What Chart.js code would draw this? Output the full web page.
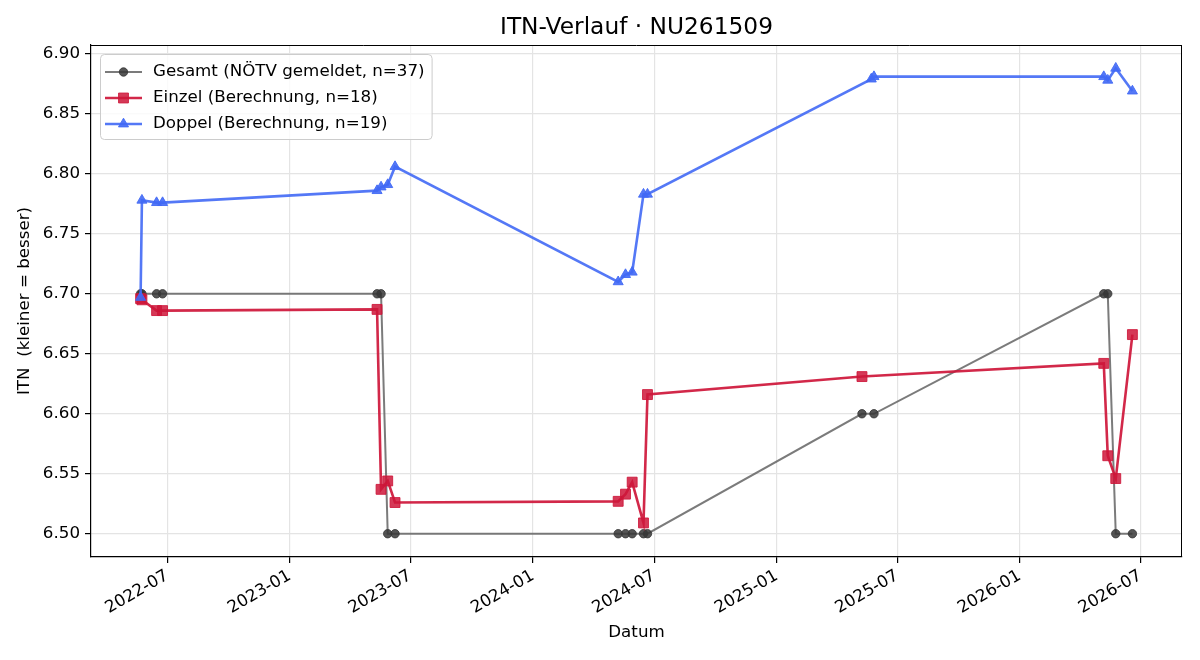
<!DOCTYPE html>
<html>
<head>
<meta charset="utf-8">
<script src="https://cdn.jsdelivr.net/npm/chart.js@4.4.0/dist/chart.umd.min.js"></script>
<style>
html,body{margin:0;padding:0;background:#ffffff;}
#wrap{width:1200px;height:660px;}
</style>
</head>
<body>
<div id="wrap"><canvas id="c" width="1200" height="660"></canvas></div>
<script>
const chartTitle = 'ITN-Verlauf · NU261509';
const xAxisTitle = 'Datum';
const yAxisTitle = 'ITN  (kleiner = besser)';

const gesamtLabel = 'Gesamt (NÖTV gemeldet, n=37)';
const gesamtDates = ['2022-05-22','2022-05-24','2022-06-15','2022-06-24','2023-05-12','2023-05-18','2023-05-28','2023-06-08','2024-05-08','2024-05-19','2024-05-29','2024-06-15','2024-06-21','2025-05-09','2025-05-27','2026-05-07','2026-05-13','2026-05-25','2026-06-19'];
const gesamtValues = [6.70,6.70,6.70,6.70,6.70,6.70,6.50,6.50,6.50,6.50,6.50,6.50,6.50,6.60,6.60,6.70,6.70,6.50,6.50];

const einzelLabel = 'Einzel (Berechnung, n=18)';
const einzelDates = ['2022-05-22','2022-05-24','2022-06-15','2022-06-24','2023-05-12','2023-05-18','2023-05-28','2023-06-08','2024-05-08','2024-05-19','2024-05-29','2024-06-15','2024-06-21','2025-05-09','2026-05-07','2026-05-13','2026-05-25','2026-06-19'];
const einzelValues = [6.696,6.695,6.686,6.686,6.687,6.537,6.544,6.526,6.527,6.533,6.543,6.509,6.616,6.631,6.642,6.565,6.546,6.666];

const doppelLabel = 'Doppel (Berechnung, n=19)';
const doppelDates = ['2022-05-22','2022-05-24','2022-06-15','2022-06-24','2023-05-12','2023-05-18','2023-05-28','2023-06-08','2024-05-08','2024-05-19','2024-05-29','2024-06-15','2024-06-21','2025-05-23','2025-05-27','2026-05-07','2026-05-13','2026-05-25','2026-06-19'];
const doppelValues = [6.697,6.778,6.776,6.776,6.786,6.789,6.791,6.806,6.710,6.716,6.718,6.783,6.783,6.879,6.881,6.881,6.878,6.888,6.869];

const xTickLabels = ['2022-07','2023-01','2023-07','2024-01','2024-07','2025-01','2025-07','2026-01','2026-07'];
const yTickValues = [6.50,6.55,6.60,6.65,6.70,6.75,6.80,6.85,6.90];

const FONT = "'DejaVu Sans', sans-serif";
const FS = 16.7;

function dayNum(s){
  const p = s.split('-').map(Number);
  return Date.UTC(p[0], p[1]-1, p[2] || 1) / 86400000;
}
function pts(dates, vals){ return dates.map((d,i)=>({x: dayNum(d), y: vals[i]})); }

const xTickDays = xTickLabels.map(dayNum);
const allDays = [].concat(gesamtDates, einzelDates, doppelDates).map(dayNum);
const allVals = [].concat(gesamtValues, einzelValues, doppelValues);
const xMinD = Math.min(...allDays), xMaxD = Math.max(...allDays);
const yMinD = Math.min(...allVals), yMaxD = Math.max(...allVals);
const xm = (xMaxD - xMinD) * 0.05, ym = (yMaxD - yMinD) * 0.05;

const frameAndTitle = {
  id: 'frameAndTitle',
  afterDatasetsDraw(chart){
    const {ctx, chartArea:a} = chart;
    ctx.save();
    ctx.strokeStyle = '#000';
    ctx.lineWidth = 1;
    ctx.beginPath();
    ctx.moveTo(a.left, a.top + 0.5); ctx.lineTo(a.right, a.top + 0.5);
    ctx.moveTo(a.right - 0.5, a.top); ctx.lineTo(a.right - 0.5, a.bottom);
    ctx.stroke();
    ctx.restore();
  },
  afterDraw(chart){
    const {ctx, chartArea:a} = chart;
    ctx.save();
    ctx.fillStyle = '#000';
    ctx.font = '23.3px ' + FONT;
    ctx.textAlign = 'center';
    ctx.textBaseline = 'middle';
    ctx.fillText(chartTitle, (a.left + a.right)/2, 28);

    // legend
    const ds = chart.data.datasets;
    ctx.font = FS + 'px ' + FONT;
    const bx = a.left + 9, by = a.top + 9, rowH = 26;
    const textX = bx + 53;
    let maxW = 0;
    ds.forEach(d => { maxW = Math.max(maxW, ctx.measureText(d.label).width); });
    const bw = textX - bx + maxW + 7, bh = 85;
    ctx.fillStyle = 'rgba(255,255,255,0.8)';
    ctx.strokeStyle = '#cccccc';
    ctx.lineWidth = 1;
    ctx.beginPath();
    ctx.roundRect(bx + 0.5, by + 0.5, bw, bh, 4);
    ctx.fill(); ctx.stroke();
    ds.forEach((d, i) => {
      const y = by + 18 + i * rowH;
      ctx.strokeStyle = d.borderColor;
      ctx.lineWidth = d.borderWidth;
      ctx.beginPath();
      ctx.moveTo(bx + 5, y); ctx.lineTo(bx + 42, y);
      ctx.stroke();
      ctx.fillStyle = d.pointBackgroundColor;
      ctx.strokeStyle = d.pointBorderColor;
      ctx.lineWidth = d.pointBorderWidth;
      Chart.helpers.drawPoint(ctx, {pointStyle: d.pointStyle, radius: d.pointRadius, rotation: 0, borderWidth: d.pointBorderWidth}, bx + 23.5, y);
      ctx.fillStyle = '#000';
      ctx.textAlign = 'left';
      ctx.textBaseline = 'middle';
      ctx.fillText(d.label, textX, y);
    });
    ctx.restore();
  }
};

new Chart(document.getElementById('c'), {
  type: 'line',
  data: {
    datasets: [
      {
        label: gesamtLabel, data: pts(gesamtDates, gesamtValues),
        borderColor: 'rgba(100,100,100,0.85)', borderWidth: 2,
        pointStyle: 'circle', pointRadius: 4.2,
        pointBackgroundColor: 'rgba(55,55,55,0.85)', pointBorderColor: 'rgba(55,55,55,0.85)', pointBorderWidth: 1,
        tension: 0, order: 3
      },
      {
        label: einzelLabel, data: pts(einzelDates, einzelValues),
        borderColor: 'rgba(206,22,58,0.92)', borderWidth: 2.6,
        pointStyle: 'rect', pointRadius: 7,
        pointBackgroundColor: 'rgba(206,22,58,0.85)', pointBorderColor: 'rgba(206,22,58,0.85)', pointBorderWidth: 1,
        tension: 0, order: 2
      },
      {
        label: doppelLabel, data: pts(doppelDates, doppelValues),
        borderColor: 'rgba(65,105,245,0.9)', borderWidth: 2.6,
        pointStyle: 'triangle', pointRadius: 5.8,
        pointBackgroundColor: 'rgba(65,105,245,0.9)', pointBorderColor: 'rgba(65,105,245,0.9)', pointBorderWidth: 1,
        tension: 0, order: 1
      }
    ]
  },
  options: {
    responsive: false,
    devicePixelRatio: 1,
    animation: false,
    layout: { padding: { left: 0, right: 18, top: 45, bottom: 0 } },
    plugins: { legend: { display: false }, title: { display: false }, tooltip: { enabled: false } },
    scales: {
      x: {
        type: 'linear',
        min: xMinD - xm, max: xMaxD + xm,
        afterBuildTicks: (s) => { s.ticks = xTickDays.map(v => ({value: v})); },
        afterFit: (s) => { s.height = 103; },
        ticks: {
          autoSkip: false, minRotation: 30, maxRotation: 30, padding: 3,
          color: '#000', font: { family: FONT, size: FS },
          callback: (v, i) => xTickLabels[i]
        },
        grid: { color: '#e4e4e4', lineWidth: 1.2, tickLength: 6, tickColor: '#000', tickWidth: 1.2 },
        border: { display: true, color: '#000', width: 1.2 },
        title: { display: true, text: xAxisTitle, color: '#000', font: { family: FONT, size: FS }, padding: { top: 0, bottom: 17 } }
      },
      y: {
        type: 'linear',
        min: yMinD - ym, max: yMaxD + ym,
        afterBuildTicks: (s) => { s.ticks = yTickValues.map(v => ({value: v})); },
        afterFit: (s) => { s.width = 91; },
        ticks: {
          padding: 5, color: '#000', font: { family: FONT, size: FS },
          callback: (v) => Number(v).toFixed(2)
        },
        grid: { color: '#e4e4e4', lineWidth: 1.2, tickLength: 6, tickColor: '#000', tickWidth: 1.2 },
        border: { display: true, color: '#000', width: 1.2 },
        title: { display: true, text: yAxisTitle, color: '#000', font: { family: FONT, size: FS }, padding: { top: 15, bottom: 0 } }
      }
    }
  },
  plugins: [frameAndTitle]
});
</script>
</body>
</html>
